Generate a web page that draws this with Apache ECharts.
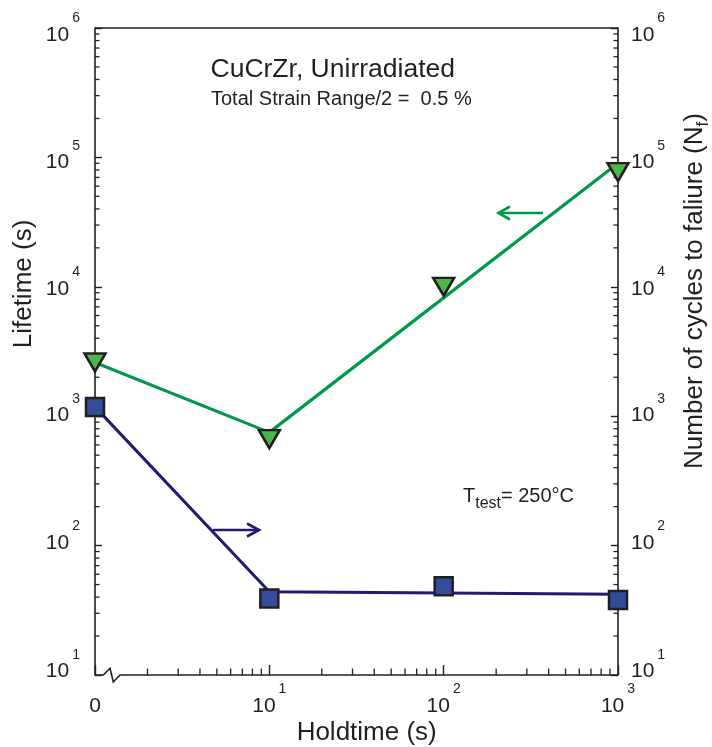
<!DOCTYPE html>
<html>
<head>
<meta charset="utf-8">
<script src="https://cdn.jsdelivr.net/npm/echarts@6/dist/echarts.min.js"></script>
<style>
  html, body { margin: 0; padding: 0; background: #fff; }
  #chart { width: 712px; height: 747px; }
</style>
</head>
<body>
<div id="chart"></div>
<script>
// Holdtime values; zero holdtime is placed at 1 s on the log axis and labelled "0".
const holdtimes = [1, 10, 100, 1000];
const lifetimeMeasured = [2600, 665, 10000, 77000];   // s, left axis
const cyclesMeasured = [1180, 39, 48.5, 38];          // N_f, right axis

// Guide lines drawn through the data sets
const trendHoldtimes = [1, 10, 1000];
const lifetimeTrend = [2600, 750, 90000];
const cyclesTrend = [1180, 44, 42];

const FONT = '"Liberation Sans", Arial, Helvetica, sans-serif';
const INK = '#231f20';
const GREEN = '#00994a';
const GREEN_FILL = '#4cb748';
const NAVY = '#221a73';
const BLUE_FILL = '#334d9b';

const pairs = (xs, ys) => xs.map((x, i) => [x, ys[i]]);

// Power-of-ten tick labels: "10" with a raised exponent.
// Each decade label gets a small vertical nudge (px, positive = down).
const decadeNudge = { 0: 0, 1: -3.5, 2: -2.5, 3: -0.7, 4: 2.3, 5: 5.3, 6: 7 };
const powRich = {};
Object.keys(decadeNudge).forEach(function (e) {
  const off = decadeNudge[e];
  powRich['b' + e] = {
    fontSize: 21, lineHeight: 21, fontFamily: FONT, color: INK,
    padding: off >= 0 ? [2 * off, 0, 0, 0] : [0, 0, -2 * off, 0]
  };
  powRich['s' + e] = {
    fontSize: 14, lineHeight: 14, fontFamily: FONT, color: INK,
    padding: [0, 0, 33 - 2 * off, 3]
  };
});
powRich.z = { fontSize: 21, lineHeight: 21, fontFamily: FONT, color: INK };
powRich.bx = { fontSize: 21, lineHeight: 21, fontFamily: FONT, color: INK };
powRich.sx = { fontSize: 14, lineHeight: 14, fontFamily: FONT, color: INK, padding: [0, 0, 33, 3] };

const powLabelY = v => {
  const e = Math.round(Math.log10(v));
  return '{b' + e + '|10}{s' + e + '|' + e + '}';
};
const powLabelX = v => {
  const e = Math.round(Math.log10(v));
  return e === 0 ? '{z|0}' : '{bx|10}{sx|' + e + '}';
};

const chart = echarts.init(document.getElementById('chart'), null, { renderer: 'canvas' });

const yAxisBase = {
  type: 'log',
  logBase: 10,
  min: 10,
  max: 1e6,
  axisLine: { show: true, lineStyle: { color: INK, width: 1.6 } },
  axisTick: { show: true, inside: true, length: 7, lineStyle: { color: INK, width: 1.4 } },
  splitLine: { show: false },
  minorTick: { show: false },
  axisLabel: { formatter: powLabelY, rich: powRich, fontFamily: FONT }
};

chart.setOption({
  animation: false,
  backgroundColor: '#fff',
  grid: { left: 95, right: 94, top: 28, bottom: 72, containLabel: false },
  xAxis: {
    type: 'log',
    logBase: 10,
    min: 1,
    max: 1000,
    axisLine: { show: false },
    axisTick: { show: true, inside: true, length: 10, lineStyle: { color: INK, width: 1.4 } },
    splitLine: { show: false },
    axisLabel: {
      verticalAlign: 'middle',
      margin: 31,
      formatter: powLabelX,
      rich: powRich
    }
  },
  yAxis: [
    Object.assign({}, yAxisBase, {
      position: 'left',
      axisLabel: Object.assign({}, yAxisBase.axisLabel, { align: 'right', margin: 15 })
    }),
    Object.assign({}, yAxisBase, {
      position: 'right',
      axisLabel: Object.assign({}, yAxisBase.axisLabel, { align: 'left', margin: 13 })
    })
  ],
  series: [
    {
      // frame: top edge, broken holdtime axis and logarithmic minor ticks
      type: 'custom',
      coordinateSystem: 'cartesian2d',
      xAxisIndex: 0,
      yAxisIndex: 0,
      data: [[1, 10]],
      silent: true,
      clip: false,
      z: 1,
      renderItem: function (params, api) {
        const lb = api.coord([1, 10]);
        const rt = api.coord([1000, 1e6]);
        const x0 = lb[0], yb = lb[1], x1 = rt[0], yt = rt[1];
        const children = [];
        const seg = (a, b, c, d, w) => children.push({
          type: 'line',
          shape: { x1: a, y1: b, x2: c, y2: d },
          style: { stroke: INK, lineWidth: w || 1.3 }
        });
        seg(x0, yt, x1, yt, 1.6);
        children.push({
          type: 'polyline',
          shape: { points: [[x0, yb], [x0 + 8.3, yb], [x0 + 15, yb - 6.7], [x0 + 18.3, yb + 7], [x0 + 25, yb], [x1, yb]] },
          style: { stroke: INK, lineWidth: 1.6, fill: null }
        });
        for (let d = 1; d < 6; d++) {
          for (let k = 2; k < 10; k++) {
            const y = api.coord([1, k * Math.pow(10, d)])[1];
            seg(x0, y, x0 + 4.5, y);
            seg(x1, y, x1 - 4.5, y);
          }
        }
        for (let d = 0; d < 3; d++) {
          for (let k = 2; k < 10; k++) {
            const x = api.coord([k * Math.pow(10, d), 10])[0];
            seg(x, yb, x, yb - 6.5);
          }
        }
        return { type: 'group', children: children };
      }
    },
    {
      name: 'Lifetime trend',
      type: 'line',
      xAxisIndex: 0,
      yAxisIndex: 0,
      data: pairs(trendHoldtimes, lifetimeTrend),
      showSymbol: false,
      symbol: 'none',
      lineStyle: { color: GREEN, width: 3.2 },
      z: 2
    },
    {
      name: 'Cycles trend',
      type: 'line',
      xAxisIndex: 0,
      yAxisIndex: 1,
      data: pairs(trendHoldtimes, cyclesTrend),
      showSymbol: false,
      symbol: 'none',
      lineStyle: { color: NAVY, width: 3 },
      z: 2
    },
    {
      name: 'Lifetime',
      type: 'scatter',
      xAxisIndex: 0,
      yAxisIndex: 0,
      data: pairs(holdtimes, lifetimeMeasured),
      symbol: 'triangle',
      symbolRotate: 180,
      symbolSize: [21, 18],
      itemStyle: { color: GREEN_FILL, borderColor: INK, borderWidth: 2.5, opacity: 1 },
      z: 3
    },
    {
      name: 'Cycles to failure',
      type: 'scatter',
      xAxisIndex: 0,
      yAxisIndex: 1,
      data: pairs(holdtimes, cyclesMeasured),
      symbol: 'rect',
      symbolSize: 18,
      itemStyle: { color: BLUE_FILL, borderColor: INK, borderWidth: 2.5, opacity: 1 },
      z: 3
    }
  ],
  graphic: [
    {
      type: 'text', x: 210.5, y: 69.3, z: 10,
      style: { text: 'CuCrZr, Unirradiated', font: '26.5px ' + FONT, fill: INK, align: 'left', verticalAlign: 'middle' }
    },
    {
      type: 'text', x: 211, y: 99.8, z: 10,
      style: { text: 'Total Strain Range/2 =  0.5 %', font: '20px ' + FONT, fill: INK, align: 'left', verticalAlign: 'middle' }
    },
    {
      type: 'text', x: 463, y: 496, z: 10,
      style: {
        text: '{a|T}{u|test}{a|= 250°C}',
        align: 'left', verticalAlign: 'middle',
        rich: {
          a: { fontSize: 20, lineHeight: 20, fontFamily: FONT, fill: INK, color: INK },
          u: { fontSize: 16, lineHeight: 16, fontFamily: FONT, fill: INK, color: INK, padding: [15, 0, 0, 0] }
        }
      }
    },
    {
      type: 'text', x: 366.7, y: 732.7, z: 10,
      style: { text: 'Holdtime (s)', font: '26px ' + FONT, fill: INK, align: 'center', verticalAlign: 'middle' }
    },
    {
      type: 'text', x: 24, y: 284, rotation: Math.PI / 2, z: 10,
      style: { text: 'Lifetime (s)', font: '26px ' + FONT, fill: INK, align: 'center', verticalAlign: 'middle' }
    },
    {
      type: 'text', x: 695, y: 291, rotation: Math.PI / 2, z: 10,
      style: {
        text: '{a|Number of cycles to faliure (N}{u|f}{a|)}',
        align: 'center', verticalAlign: 'middle',
        rich: {
          a: { fontSize: 26, lineHeight: 26, fontFamily: FONT, fill: INK, color: INK },
          u: { fontSize: 17, lineHeight: 17, fontFamily: FONT, fill: INK, color: INK, padding: [17, 0, 0, 0] }
        }
      }
    },
    // direction arrows pointing at the axis each curve belongs to
    {
      type: 'polyline', z: 10,
      shape: { points: [[543, 213], [498.5, 213]] },
      style: { stroke: GREEN, lineWidth: 2.6, fill: null }
    },
    {
      type: 'polyline', z: 10,
      shape: { points: [[510, 206.5], [498.5, 213], [510, 219.5]] },
      style: { stroke: GREEN, lineWidth: 2.6, fill: null }
    },
    {
      type: 'polyline', z: 10,
      shape: { points: [[213, 530], [259, 530]] },
      style: { stroke: NAVY, lineWidth: 2.6, fill: null }
    },
    {
      type: 'polyline', z: 10,
      shape: { points: [[247, 523.5], [259, 530], [247, 536.5]] },
      style: { stroke: NAVY, lineWidth: 2.6, fill: null }
    }
  ]
});
</script>
</body>
</html>
